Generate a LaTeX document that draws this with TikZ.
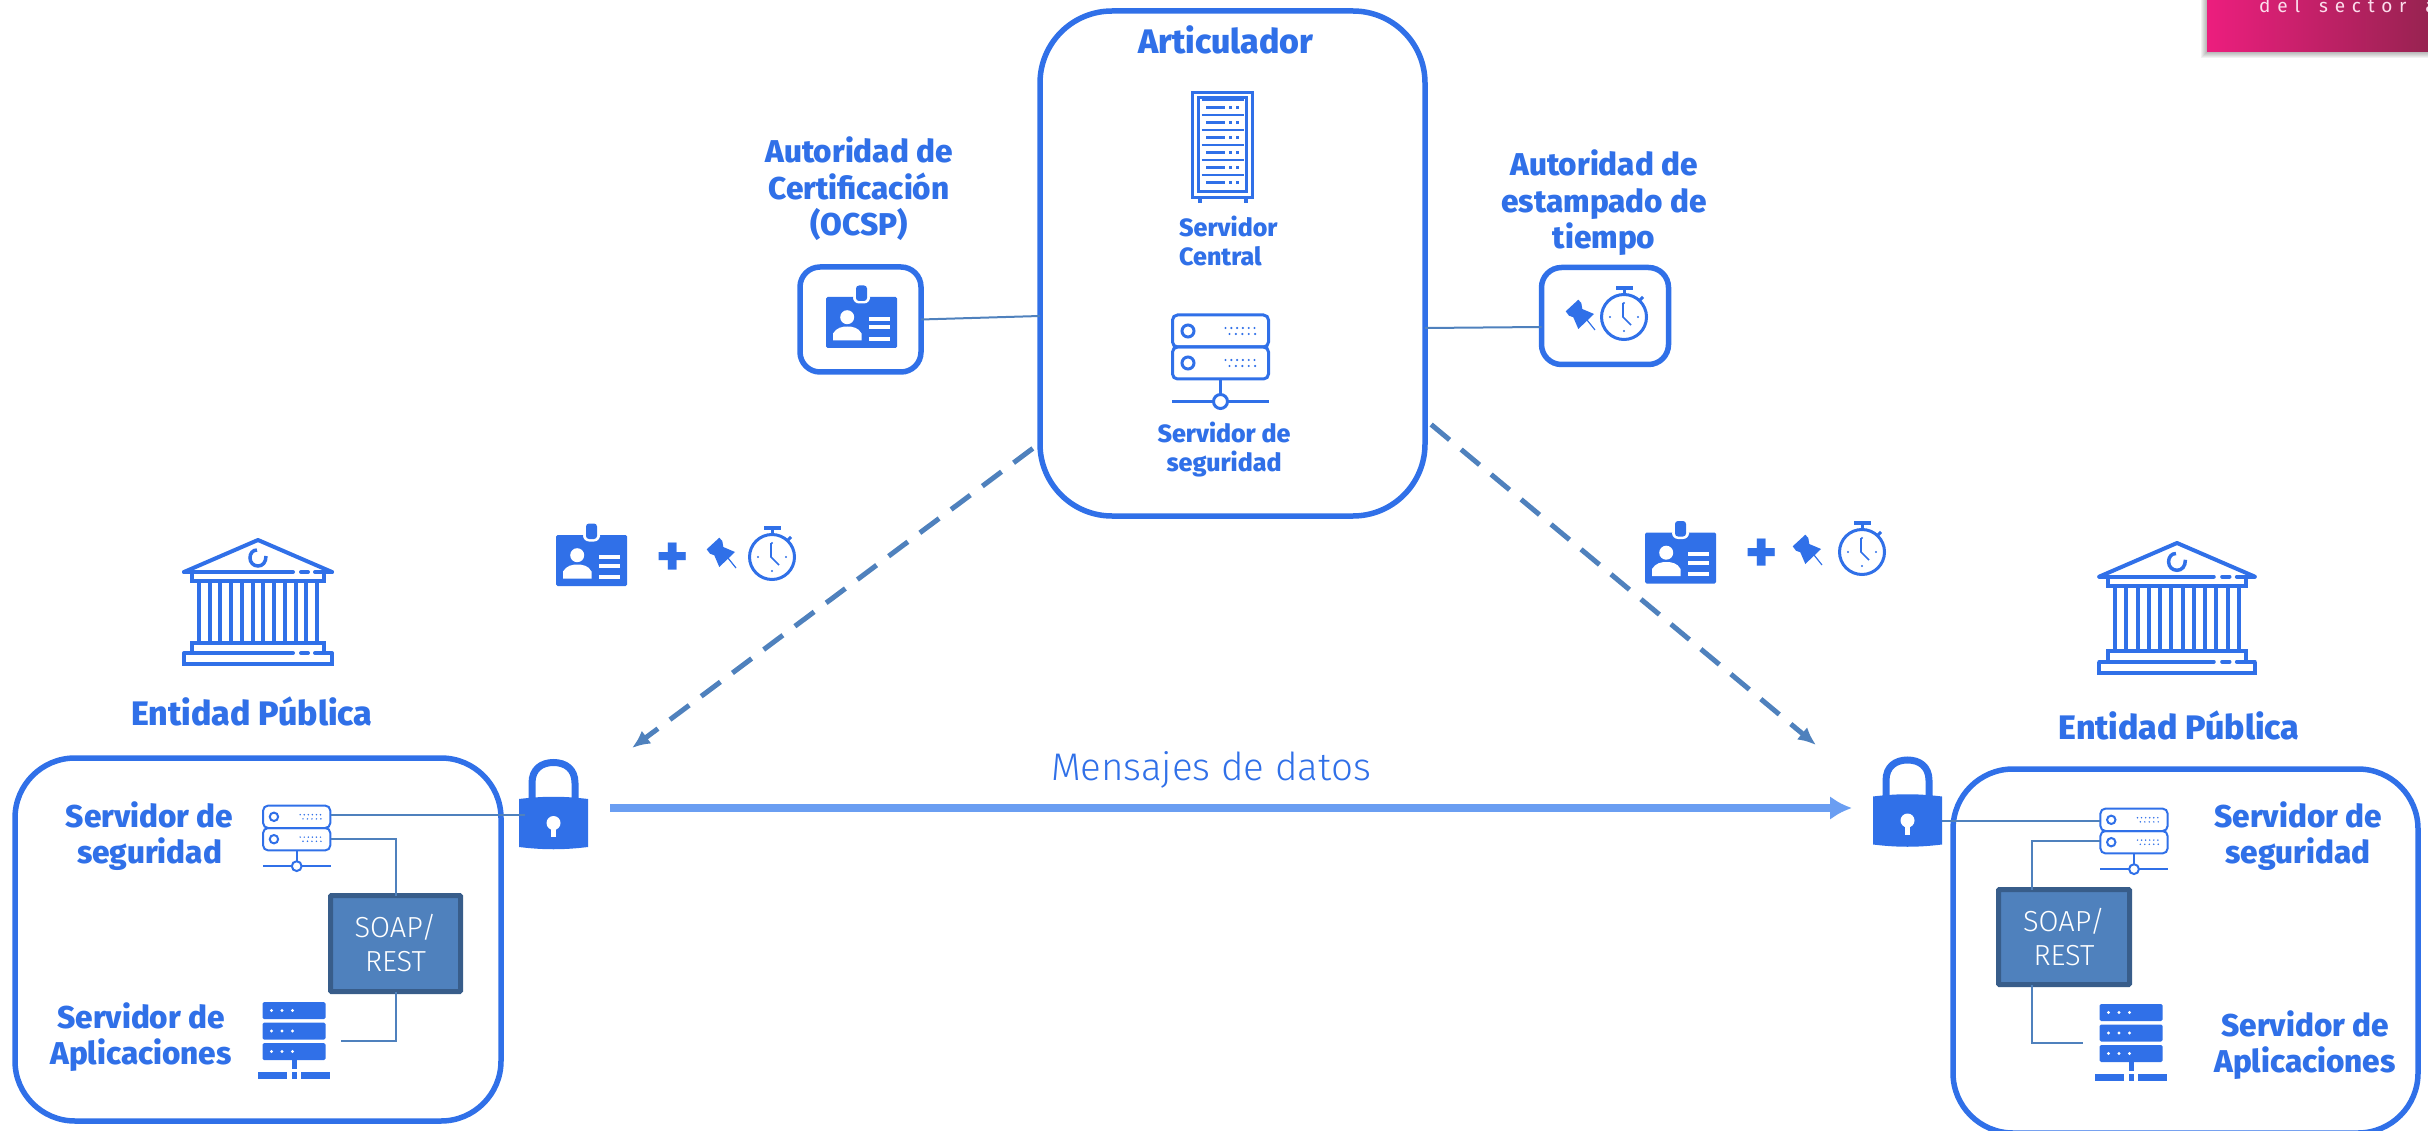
\documentclass[tikz,border=0pt]{standalone}
\usepackage{fontspec}
\setmainfont{Fira Sans}[BoldFont={Fira Sans ExtraBold}]
\newfontfamily\lightfont{Fira Sans Light}
\usetikzlibrary{arrows.meta,positioning}
\definecolor{azul}{HTML}{3070E8}
\definecolor{azulsoap}{HTML}{4F81BD}
\definecolor{bordesoap}{HTML}{385D8A}
\definecolor{flecha}{HTML}{6A9EF2}
\definecolor{rosa}{HTML}{EC1E7E}
\definecolor{vino}{HTML}{962350}

\tikzset{
  idcard/.pic={
    \fill[azul, rounded corners=1.5pt] (-35.5,-25.5) rectangle (35.5,25.5);
    \fill[white, rounded corners=6pt] (-8.5,-30) rectangle (8.5,-19);
    \fill[azul, rounded corners=3pt] (-5.5,-37) rectangle (5.5,-21.5);
    \fill[white] (-14.3,-5.3) circle (7);
    \fill[white] (-28.5,18) -- (-28.5,11) .. controls (-25,5) and (-19,4) .. (-14.3,4) .. controls (-9,4) and (-3,5) .. (0,11) -- (0,18) -- cycle;
    \foreach \ly in {-3.7,5,16.3}
      \fill[white] (7.3,\ly-2) rectangle (28.3,\ly+2);
  },
  stopwatch/.pic={
    \draw[azul, line width=3pt] (0,0) circle (22.5);
    \fill[azul] (-8.5,-31) rectangle (8.5,-27);
    \draw[azul, line width=3pt] (0,-28) -- (0,-22);
    \draw[azul, line width=3pt] (15,-16) -- (19,-20);
    \draw[azul, line width=1.6pt] (-1,-14) -- (-1,0) -- (7,8);
    \foreach \tx/\ty in {0/-14,14/0,0/14,-14/0}
      \fill[azul] (\tx,\ty) circle (1.2);
  },
  pushpin/.pic={
    \fill[azul] (-13.3,-2.7) -- (-0.7,-14.3) -- (2.3,-11) -- (3.3,-5) -- (15,0) -- (-0.7,15) -- (-5.7,3.3) -- (-10,1.7) -- cycle;
    \draw[azul, line width=1.2pt] (8,6) -- (16,16);
  },
  rack/.pic={
    \draw[azul, line width=3pt] (-30,-52.5) rectangle (30,52.5);
    \draw[azul, line width=3pt] (-24,-47) rectangle (24,47);
    \fill[azul] (-25,54) rectangle (-21,58);
    \fill[azul] (21,54) rectangle (25,58);
    \foreach \ry in {-37.7,-22.7,-7.7,7.7,22.7,37.3} {
      \draw[azul, line width=2pt] (-21,\ry-7.5) -- (21,\ry-7.5);
      \fill[azul] (-16.5,\ry-1.5) rectangle (2.5,\ry+1.5);
      \fill[azul] (6,\ry-1.7) rectangle (9.5,\ry+1.7);
      \fill[azul] (13,\ry-1.7) rectangle (16.5,\ry+1.7);
    }
  },
  secserver/.pic={
    \foreach \uy in {-16,16} {
      \draw[azul, rounded corners=5pt] (-48,\uy-16) rectangle (48,\uy+16);
      \draw[azul] (-32.5,\uy) circle (6);
      \foreach \dx in {0,1,2,3,4,5}
        \fill[azul] (5+\dx*5.8,\uy-3) circle (1.2);
      \foreach \dx in {0,1,2,3,4}
        \fill[azul] (9+\dx*6.4,\uy+3) circle (1.2);
    }
    \draw[azul] (0,32) -- (0,47);
    \draw[azul] (-48.5,54.5) -- (-7,54.5) (7,54.5) -- (48.5,54.5);
    \draw[azul] (0,54.5) circle (7);
  },
  appserver/.pic={
    \foreach \uy in {-30,-9.5,11} {
      \fill[azul, rounded corners=1.5pt] (-31.5,\uy-8.5) rectangle (31.5,\uy+8.5);
      \foreach \dx in {-22.5,-12,-1.5}
        \fill[white] (\dx,\uy) circle (1.7);
    }
    \fill[azul] (-2.5,19) rectangle (2.5,28);
    \fill[azul] (-36,31.5) rectangle (-7,38.5);
    \fill[azul] (-2.5,31.5) rectangle (2.5,38.5);
    \fill[azul] (7,31.5) rectangle (36,38.5);
  },
  candado/.pic={
    \draw[azul, line width=7pt] (-21.5,-4) -- (-21.5,-21) .. controls (-21.5,-35) and (-12,-41.5) .. (0,-41.5) .. controls (12,-41.5) and (21.5,-35) .. (21.5,-21) -- (21.5,-4);
    \fill[azul] (-34.5,-5) .. controls (-10,-8) and (10,-8) .. (34.5,-5) -- (34.5,43) .. controls (10,46) and (-10,46) .. (-34.5,43) -- cycle;
    \fill[white] (0,19) circle (7);
    \fill[white] (-2.5,19) rectangle (2.5,33);
  },
  banco/.pic={
    \draw[azul, line width=4pt, line cap=round, line join=round] (-74,-28) -- (0,-60) -- (74,-28);
    \draw[azul, line width=4pt, line cap=round] (-74,-28) -- (35,-28) (43,-28) -- (50,-28) (57,-28) -- (74,-28);
    \draw[azul, line width=3.5pt] (-1,-50) .. controls (-5.5,-50) and (-8,-46.5) .. (-8,-42) .. controls (-8,-37.5) and (-4.5,-34) .. (0,-34) .. controls (4.5,-34) and (8,-37.5) .. (8,-44);
    \draw[azul, line width=4pt] (-66,-28) -- (-66,-19) -- (66,-19) -- (66,-28);
    \foreach \cn in {0,...,11}
      \draw[azul, line width=4pt] (-59+\cn*10.73,-19) -- (-59+\cn*10.73,43);
    \draw[azul, line width=4pt] (-66,53) -- (-66,43) -- (66,43) -- (66,53);
    \draw[azul, line width=4pt, line cap=round] (-74,53) -- (35,53) (43,53) -- (50,53) (57,53) -- (74,53);
    \draw[azul, line width=4pt] (-74,53) -- (-74,64) -- (74,64) -- (74,53);
  }
}

\begin{document}
\begin{tikzpicture}[x=1pt, y=-1pt]
\tikzstyle{box}=[rectangle, draw=azul, line width=5.5pt, inner sep=0pt, outer sep=0pt]
\tikzstyle{icon}=[rectangle, inner sep=0pt, outer sep=0pt]
\tikzstyle{soap}=[rectangle, rounded corners=1pt, draw=bordesoap, fill=azulsoap, line width=5pt, inner sep=0pt, outer sep=0pt, text=white, align=center, font=\lightfont\fontsize{29}{34}\selectfont]
\tikzstyle{tag}=[text=azul, align=center, inner sep=0pt, font=\bfseries\fontsize{31.5}{36.5}\selectfont]
\tikzstyle{tagname}=[text=azul, inner sep=0pt, font=\bfseries\fontsize{34}{36}\selectfont]
\tikzstyle{tagsmall}=[text=azul, align=center, inner sep=0pt, font=\bfseries\fontsize{25}{29}\selectfont]
\tikzstyle{connect}=[draw=azulsoap, line width=2pt]
\tikzstyle{dashlink}=[draw=azulsoap, line width=5pt, dash pattern=on 24pt off 15pt, -{Latex[length=18pt,width=16pt]}]
\tikzstyle{datalink}=[draw=flecha, line width=8pt, -{Latex[length=22pt,width=24pt]}]
\tikzstyle{plus}=[text=azul, inner sep=0pt, font=\bfseries\fontsize{60}{60}\selectfont]
  \useasboundingbox (0,0) rectangle (2428,1131);
  % esquina
  \foreach \s in {1,...,6}
    \fill[black, opacity=.05] (2207-\s,-5) rectangle (2433,52+\s);
  \shade[left color=rosa, right color=vino] (2207,-5) rectangle (2433,52);
  \node[text=white!85!rosa, anchor=west, inner sep=0pt, font=\fontsize{19}{22}\selectfont\addfontfeatures{LetterSpace=36}] (sector) at (2259,5) {del\hspace{7pt} sector\hspace{7pt} a};
  % articulador
  \node[box, minimum width=385pt, minimum height=505pt, rounded corners=72pt] (artic) at (1232.5,263.5) {};
  \node[tagname] (articname) at (1226,40) {Articulador};
  \node[icon, minimum width=63pt, minimum height=112pt] (central) at (1222.5,147) {};
  \pic at (1222.5,145) {rack};
  \node[tagsmall, align=left, anchor=north west] (centralname) [below=13pt of central.south west, xshift=-12pt, anchor=north west] {Servidor\\Central};
  \node[icon, minimum width=97pt, minimum height=96pt] (segur) at (1220.5,347) {};
  \pic[line width=3pt] at (1220.5,347) {secserver};
  \node[tagsmall] (segurname) at (1224,450) {Servidor de\\seguridad};
  % autoridades
  \node[box, minimum width=121pt, minimum height=105pt, rounded corners=20pt] (cert) at (860.5,319.5) {};
  \pic at (861.5,322.5) {idcard};
  \node[tag] (certname) at (859,189) {Autoridad de\\Certificación\\(OCSP)};
  \node[box, minimum width=127pt, minimum height=97pt, rounded corners=20pt] (stamp) at (1605,316) {};
  \pic at (1579,314) {pushpin};
  \pic at (1624,317) {stopwatch};
  \node[tag] (stampname) at (1604,203) {Autoridad de\\estampado de\\tiempo};
  \path[connect] (cert.east) edge (artic.west |- 1035,316);
  \path[connect] (artic.east |- 1427,328) edge (stamp.west |- 1539,327);
  % sellos sobre los enlaces
  \pic at (591.5,560.5) {idcard};
  \node[plus] (plusL) at (673,560) {+};
  \pic at (720,552) {pushpin};
  \pic at (772,557) {stopwatch};
  \pic at (1680.5,558) {idcard};
  \node[plus] (plusR) at (1762,556) {+};
  \pic at (1806,549) {pushpin};
  \pic at (1862,552) {stopwatch};
  % entidad izquierda
  \pic at (258,600) {banco};
  \node[tagname] (entnameL) at (252,711) {Entidad Pública};
  \node[box, minimum width=486pt, minimum height=363pt, rounded corners=60pt] (entL) at (258,939.5) {};
  \node[icon, minimum width=68.5pt, minimum height=48pt] (srvL) at (296.7,828) {};
  \pic[scale=.7, line width=2pt] at (296.7,828) {secserver};
  \node[tag] (srvnameL) at (149.5,836) {Servidor de\\seguridad};
  \node[icon, minimum width=72pt, minimum height=77pt] (appL) at (294,1040.5) {};
  \pic at (294,1040.5) {appserver};
  \node[tag] (appnameL) at (141,1037) {Servidor de\\Aplicaciones};
  \node[soap, minimum width=130pt, minimum height=96pt] (soapL) at (395.5,943.5) {SOAP/\\REST};
  \node[icon, minimum width=69pt, minimum height=91pt] (lockL) at (553.5,804) {};
  \pic at (553.5,804) {candado};
  % entidad derecha
  \pic[scale=1.05] at (2177,606) {banco};
  \node[tagname] (entnameR) at (2179,725) {Entidad Pública};
  \node[box, minimum width=465pt, minimum height=364pt, rounded corners=60pt] (entR) at (2185.5,951) {};
  \node[icon, minimum width=68pt, minimum height=46pt] (srvR) at (2134,831) {};
  \pic[scale=.7, line width=2pt] at (2134,831) {secserver};
  \node[tag] (srvnameR) at (2298,836) {Servidor de\\seguridad};
  \node[icon, minimum width=72pt, minimum height=77pt] (appR) at (2131,1042.5) {};
  \pic at (2131,1042.5) {appserver};
  \node[tag] (appnameR) at (2305,1045) {Servidor de\\Aplicaciones};
  \node[soap, minimum width=131pt, minimum height=95pt] (soapR) at (2064,937) {SOAP/\\REST};
  \node[icon, minimum width=69pt, minimum height=91pt] (lockR) at (1907.5,801.5) {};
  \pic at (1907.5,801.5) {candado};
  % enlaces
  \coordinate (tipL) at (632,748);
  \coordinate (tipR) at (1816,745);
  \draw[dashlink, shorten <=9pt] (artic.223) -- (tipL);
  \draw[dashlink, shorten <=8pt] (artic.-39) -- (tipR);
  \draw[datalink, shorten >=21pt] (lockL.east |- 0,808) ++(22,0) -- (lockR.west |- 0,808);
  \node[text=azul, inner sep=0pt, font=\lightfont\fontsize{38.5}{44}\selectfont] (msg) at (1211,770) {Mensajes de datos};
  \path[connect] (srvL.21) edge[shorten >=-6pt] (lockL.west |- srvL.21);
  \draw[connect] (srvL.-18) -| (soapL.north);
  \draw[connect, shorten >=11pt] (soapL.south) |- (appL.east);
  \path[connect] (lockR.east |- srvR.164) edge (srvR.164);
  \draw[connect] (srvR.196) -| (soapR.124);
  \draw[connect, shorten >=12pt] (soapR.236) |- (appR.west);
\end{tikzpicture}
\end{document}
